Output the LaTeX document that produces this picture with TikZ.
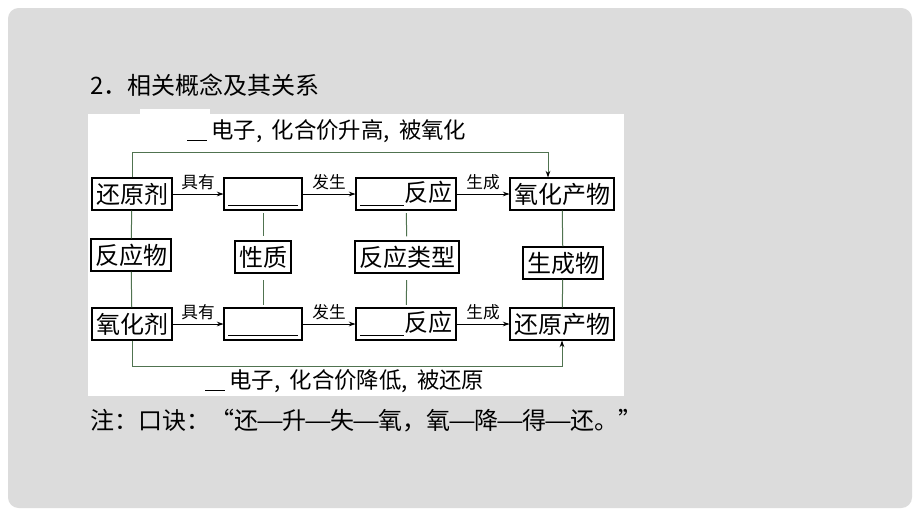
\documentclass[tikz,border=0pt]{standalone}
\usepackage{fontspec}
\newfontfamily\cjk{Noto Sans CJK SC}
\usetikzlibrary{arrows.meta,positioning}
\definecolor{bggray}{RGB}{220,220,220}
\definecolor{linkgreen}{RGB}{80,115,80}
\newcommand\ldash{\makebox[18pt]{\scalebox{1.3}[1]{—}}}
\newcommand\cma{,\hspace{7pt}}

\begin{document}
\begin{tikzpicture}[x=0.75pt,y=0.75pt,yscale=-1,xscale=1,
  box/.style={draw,line width=0.8pt,inner xsep=3pt,inner ysep=1pt,minimum height=24pt,font=\cjk\fontsize{18}{18}\selectfont},
  lbl/.style={font=\cjk\fontsize{12.5}{12.5}\selectfont,inner sep=1pt},
  gline/.style={draw=linkgreen,line width=0.75pt},
  arr/.style={-{Stealth[length=5pt,width=3.5pt]},line width=0.6pt},
  txt/.style={font=\cjk\fontsize{18}{18}\selectfont,inner sep=0pt,anchor=west}]
\useasboundingbox (0,0) rectangle (920,518);

%Shape: slide background
\fill[white] (0,0) rectangle (920,518);
\fill[bggray,rounded corners=8pt] (8,8) rectangle (912,508);
%Shape: white panel of the diagram
\fill[white] (88,114) rectangle (624,396);
\fill[white] (140,109) rectangle (210,114);

% Text Node
\node[txt] (title) at (90,85) {2．相关概念及其关系};

% Boxes, upper row
\node[box] (hy) at (132,194) {还原剂};
\node[box,minimum width=58.5pt] (k1) at (263,194) {\underline{\hspace{52pt}\vphantom{反}}};
\node[box] (fy1) at (406,194) {\underline{\hspace{33pt}\vphantom{反}}反应};
\node[box] (yhcw) at (562,194) {氧化产物};

% Boxes, middle row
\node[box] (fyw) at (131,255) {反应物};
\node[box] (xz) at (263,257) {性质};
\node[box] (fylx) at (407,257) {反应类型};
\node[box] (scw) at (563,263) {生成物};

% Boxes, lower row
\node[box] (yhj) at (132,324) {氧化剂};
\node[box,minimum width=58.5pt] (k2) at (263,324) {\underline{\hspace{52pt}\vphantom{反}}};
\node[box] (fy2) at (406,324) {\underline{\hspace{33pt}\vphantom{反}}反应};
\node[box] (hycw) at (562,324) {还原产物};

%Straight Lines: arrows with labels
\draw[arr] (hy) -- (k1) node[lbl,midway,above=2pt] {具有};
\draw[arr] (k1) -- (fy1) node[lbl,midway,above=2pt] {发生};
\draw[arr] (fy1) -- (yhcw) node[lbl,midway,above=2pt] {生成};
\draw[arr] (yhj) -- (k2) node[lbl,midway,above=2pt] {具有};
\draw[arr] (k2) -- (fy2) node[lbl,midway,above=2pt] {发生};
\draw[arr] (fy2) -- (hycw) node[lbl,midway,above=2pt] {生成};

%Straight Lines: vertical links
\draw[gline] (hy) -- (fyw);
\draw[gline] (fyw) -- (yhj);
\draw[gline,shorten <=2pt,shorten >=3pt] (k1) -- (xz);
\draw[gline,shorten <=5pt,shorten >=2pt] (xz) -- (k2);
\draw[gline,shorten <=2pt,shorten >=3pt] (fy1) -- (fylx);
\draw[gline,shorten <=5pt,shorten >=2pt] (fylx) -- (fy2);
\draw[gline] (yhcw) -- (scw);
\draw[gline] (scw) -- (hycw);

%Connectors: electron transfer
\coordinate (topL) at (132,152);
\coordinate (botL) at (132,366);
\draw[gline,-{Stealth[length=5pt,width=3.5pt,color=black]}] (hy.north) -- (topL) -| ([xshift=-10.5pt]yhcw.north);
\draw[gline,-{Stealth[length=5pt,width=3.5pt,color=black]}] (yhj.south) -- (botL) -| (hycw.south);

% Text Node
\node[txt,font=\cjk\fontsize{16.8}{16.8}\selectfont] (up) at (187,131) {\underline{\hspace{15pt}}\hspace{3pt}电子\cma 化合价升高\cma 被氧化};
\node[txt,font=\cjk\fontsize{16.8}{16.8}\selectfont] (down) at (205,381) {\underline{\hspace{15pt}}\hspace{3pt}电子\cma 化合价降低\cma 被还原};
\node[txt] (note) at (90,421) {注：口诀：“还\ldash 升\ldash 失\ldash 氧，氧\ldash 降\ldash 得\ldash 还。”};

\end{tikzpicture}
\end{document}
